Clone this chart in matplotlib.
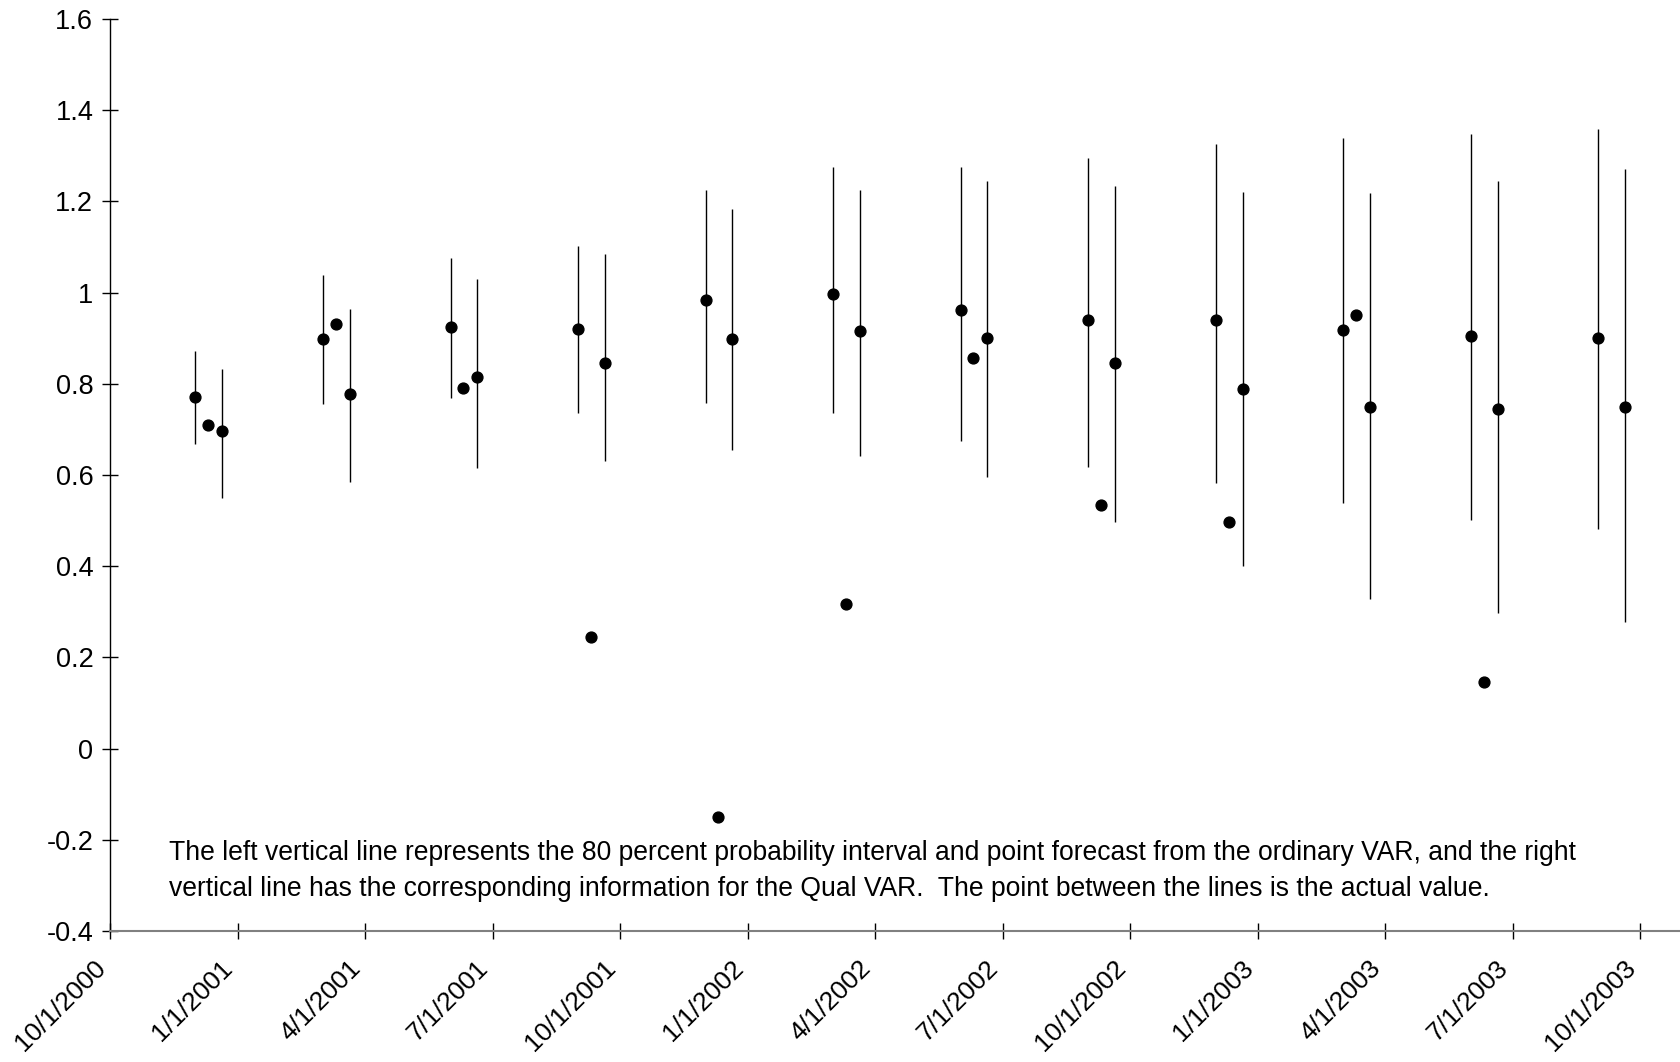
import matplotlib
matplotlib.use("Agg")
import matplotlib.pyplot as plt
import numpy as np

plt.rcParams['font.family'] = ['Liberation Sans', 'DejaVu Sans']

tick_labels = ["10/1/2000", "1/1/2001", "4/1/2001", "7/1/2001", "10/1/2001", "1/1/2002",
               "4/1/2002", "7/1/2002", "10/1/2002", "1/1/2003", "4/1/2003", "7/1/2003", "10/1/2003"]

# Ordinary VAR: 80% interval (high, low) and point forecast, quarters 1..12
var_high = [0.871, 1.038, 1.077, 1.103, 1.225, 1.275, 1.275, 1.296, 1.326, 1.340, 1.347, 1.359]
var_low = [0.669, 0.756, 0.768, 0.735, 0.758, 0.737, 0.674, 0.617, 0.582, 0.538, 0.502, 0.481]
var_point = [0.772, 0.899, 0.925, 0.920, 0.984, 0.998, 0.962, 0.941, 0.939, 0.918, 0.906, 0.901]

# Qual VAR
qual_high = [0.833, 0.965, 1.031, 1.085, 1.183, 1.225, 1.244, 1.235, 1.221, 1.218, 1.246, 1.272]
qual_low = [0.549, 0.585, 0.615, 0.631, 0.655, 0.641, 0.596, 0.498, 0.401, 0.329, 0.298, 0.277]
qual_point = [0.697, 0.777, 0.815, 0.845, 0.899, 0.915, 0.901, 0.845, 0.789, 0.749, 0.744, 0.749]

# Actual values (no actual for last quarter)
actual = [0.709, 0.932, 0.791, 0.244, -0.150, 0.317, 0.857, 0.535, 0.498, 0.951, 0.146, np.nan]

ytick_vals = [-0.4, -0.2, 0, 0.2, 0.4, 0.6, 0.8, 1, 1.2, 1.4, 1.6]
ytick_labels = ["-0.4", "-0.2", "0", "0.2", "0.4", "0.6", "0.8", "1", "1.2", "1.4", "1.6"]

note_line1 = ("The left vertical line represents the 80 percent probability interval and point "
              "forecast from the ordinary VAR, and the right")
note_line2 = ("vertical line has the corresponding information for the Qual VAR.  "
              "The point between the lines is the actual value.")

fig = plt.figure(figsize=(16.8, 10.62), dpi=100)
ax = fig.add_axes([0.0655, 0.1234, 0.9345, 0.982 - 0.1234])

q = np.arange(1, 13)
x_left = q - 0.33
x_act = q - 0.23
x_right = q - 0.12

ax.vlines(x_left, var_low, var_high, color='black', lw=1.0)
ax.vlines(x_right, qual_low, qual_high, color='black', lw=1.0)
ax.plot(x_left, var_point, 'o', color='black', ms=7.8, ls='none')
ax.plot(x_right, qual_point, 'o', color='black', ms=7.8, ls='none')
ax.plot(x_act, actual, 'o', color='black', ms=7.8, ls='none')

ax.set_xlim(0, 12.31)
ax.set_ylim(-0.4, 1.6)

ax.set_yticks(ytick_vals)
ax.set_yticklabels(ytick_labels, fontsize=19.5)
ax.set_xticks(np.arange(len(tick_labels)))
ax.set_xticklabels(tick_labels, fontsize=19, rotation=45, ha='right', va='top',
                   rotation_mode='default')

ax.tick_params(axis='y', direction='inout', length=12, width=1.0, color='black', pad=6)
ax.tick_params(axis='x', direction='inout', length=12, width=1.0, color='black', pad=12)

for s in ['top', 'right']:
    ax.spines[s].set_visible(False)
ax.spines['left'].set_color('black')
ax.spines['left'].set_linewidth(1.0)
ax.spines['bottom'].set_color('#808080')
ax.spines['bottom'].set_linewidth(1.5)

ax.text(0.46, -0.228, note_line1, fontsize=19.1, va='center', ha='left')
ax.text(0.46, -0.308, note_line2, fontsize=19.1, va='center', ha='left')

fig.savefig("out.png", dpi=100)
